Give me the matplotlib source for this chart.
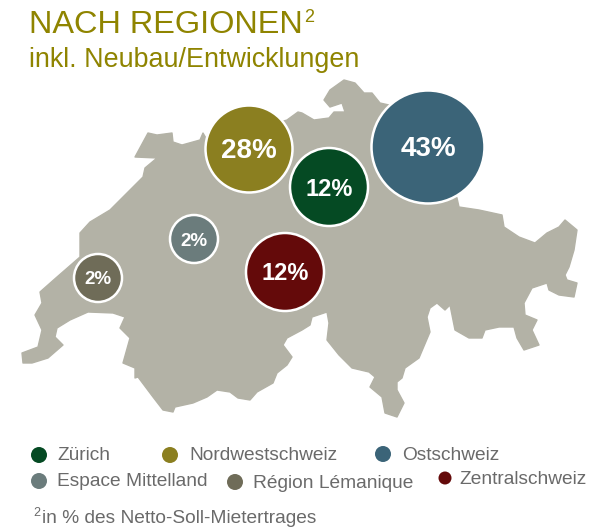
import matplotlib
matplotlib.use('Agg')
import matplotlib.pyplot as plt
from matplotlib.patches import Circle

plt.rcParams['font.family'] = ['Liberation Sans', 'DejaVu Sans']

map_x = [148, 157, 172, 173, 182, 200, 203, 207, 240, 287, 298, 302, 314, 329, 334, 345, 342, 330, 324, 330,
         344, 355, 364, 372, 380, 389, 440, 457, 459, 479, 502, 504, 519, 535, 547, 559, 565, 577, 574, 569,
         565, 567, 577, 574, 559, 549, 547, 532, 524, 525, 537, 532, 539, 524, 517, 514, 499, 485, 482, 469,
         455, 450, 445, 437, 430, 427, 430, 419, 405, 402, 397, 397, 404, 397, 385, 382, 370, 375, 369, 352,
         339, 327, 329, 327, 312, 310, 302, 287, 283, 292, 287, 277, 273, 257, 250, 238, 230, 217, 207, 193,
         175, 173, 163, 153, 138, 135, 135, 123, 130, 120, 125, 113, 88, 70, 57, 55, 63, 48, 32, 23,
         22, 38, 42, 35, 42, 40, 57, 80, 80, 90, 110, 132, 143, 145, 157, 135]
map_y = [133, 135, 133, 142, 145, 140, 133, 140, 135, 120, 112, 113, 120, 118, 112, 112, 103, 107, 100, 90,
         80, 83, 93, 93, 103, 105, 170, 198, 207, 210, 215, 227, 237, 243, 233, 227, 220, 230, 250, 267,
         275, 280, 283, 297, 295, 290, 283, 288, 303, 315, 320, 330, 345, 350, 338, 327, 327, 330, 338, 338,
         330, 305, 310, 303, 308, 317, 332, 358, 368, 378, 382, 390, 403, 417, 413, 397, 387, 377, 372, 368,
         355, 340, 323, 312, 317, 325, 330, 338, 345, 357, 365, 373, 383, 392, 400, 398, 392, 390, 397, 403,
         407, 412, 410, 397, 377, 378, 368, 363, 338, 328, 317, 313, 312, 320, 328, 337, 345, 358, 363, 363,
         353, 347, 330, 315, 303, 292, 277, 257, 233, 222, 210, 188, 177, 168, 158, 157]

regions = ['Zürich', 'Nordwestschweiz', 'Ostschweiz', 'Espace Mittelland', 'Région Lémanique', 'Zentralschweiz']
shares = [12, 28, 43, 2, 2, 12]
colors = ['#054A23', '#8B7F20', '#3B6478', '#6B7C7C', '#6F6C58', '#640A0A']

bubble_x = [329, 249, 428, 194, 98, 285]
bubble_y = [187, 149, 147, 239, 278, 272]
bubble_r = [39, 43.5, 56.5, 24, 24, 39]
label_size = [17, 20, 20, 13.5, 13.5, 17]

legend_x = [39, 170, 383, 39, 235, 445]
legend_y = [455, 455, 454, 481, 482, 478]
legend_r = [8, 8, 8, 8, 8, 6.5]
legend_text_x = [57, 189, 402, 57, 253, 459]

fig = plt.figure(figsize=(6.04, 5.29), dpi=100)
ax = fig.add_axes([0, 0, 1, 1])
ax.set_xlim(0, 604)
ax.set_ylim(529, 0)
ax.axis('off')

# rand in gleicher farbe, damit die ecken etwas weicher werden
ax.fill(map_x, map_y, facecolor='#B3B2A6', edgecolor='#B3B2A6', lw=1, joinstyle='round', zorder=1)

# blasen mit weissem rand
for i in range(len(regions)):
    ax.add_patch(Circle((bubble_x[i], bubble_y[i]), bubble_r[i], facecolor=colors[i],
                        edgecolor='white', lw=1.8, zorder=2))
    ax.text(bubble_x[i], bubble_y[i] + 2, str(shares[i]) + '%', color='white', fontsize=label_size[i],
            fontweight='bold', ha='center', va='center', zorder=3)

# legende
for i in range(len(regions)):
    ax.add_patch(Circle((legend_x[i], legend_y[i]), legend_r[i], facecolor=colors[i], lw=0, zorder=2))
    ax.text(legend_text_x[i], legend_y[i] + 1, regions[i], color='#6A6A6A', fontsize=13.8,
            ha='left', va='center')

# titel
ax.text(29, 33, 'NACH REGIONEN', color='#8F8400', fontsize=23.4, ha='left', va='baseline')
ax.text(304, 22, '2', color='#8F8400', fontsize=13, ha='left', va='baseline')
ax.text(29, 67, 'inkl. Neubau/Entwicklungen', color='#8F8400', fontsize=19.4, ha='left', va='baseline')

# fussnote
ax.text(33, 516, '2', color='#6A6A6A', fontsize=9, ha='left', va='baseline')
ax.text(42, 523, 'in % des Netto-Soll-Mietertrages', color='#6A6A6A', fontsize=13.75, ha='left', va='baseline')

fig.savefig('out.png', dpi=100)
